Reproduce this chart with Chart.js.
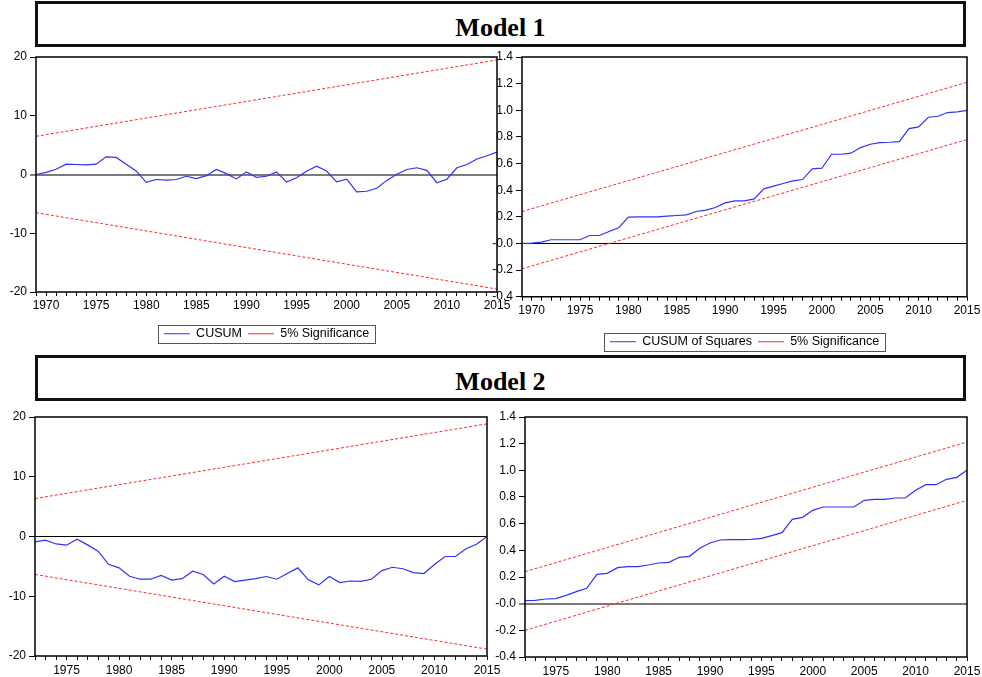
<!DOCTYPE html>
<html>
<head>
<meta charset="utf-8">
<script src="https://cdn.jsdelivr.net/npm/chart.js@4.4.0/dist/chart.umd.min.js"></script>
<style>
  html, body { margin: 0; padding: 0; background: #fff; }
  body { width: 982px; height: 677px; position: relative; overflow: hidden; }
  .title {
    position: absolute; left: 35px; width: 931px; height: 46px;
    box-sizing: border-box; border: 3px solid #111; padding-top: 4px;
    font-family: "Liberation Serif", "Times New Roman", serif;
    font-weight: bold; font-size: 26px; line-height: 40px; text-align: center; color: #000;
  }
  .box { position: absolute; }
</style>
</head>
<body>
<div class="title" style="top:1px">Model 1</div>
<div class="title" style="top:355px">Model 2</div>

<div class="box" style="left:0;top:50px;width:512px;height:300px"><canvas id="c1"></canvas></div>
<div class="box" style="left:482px;top:50px;width:500px;height:308px"><canvas id="c2"></canvas></div>
<div class="box" style="left:0;top:410px;width:500px;height:268px"><canvas id="c3"></canvas></div>
<div class="box" style="left:485px;top:410px;width:497px;height:267px"><canvas id="c4"></canvas></div>

<script>
// years
const years1 = Array.from({ length: 47 }, (_, i) => 1969 + i)  // 1969..2015
const years2 = Array.from({ length: 44 }, (_, i) => 1972 + i)  // 1972..2015

// Model 1
const m1Cusum = [0, 0.35, 0.9, 1.75, 1.7, 1.65, 1.75, 3.0, 2.9, 1.75,
  0.6, -1.35, -0.85, -0.95, -0.85, -0.3, -0.7, -0.2, 0.85, 0.15,
  -0.75, 0.45, -0.5, -0.3, 0.45, -1.3, -0.55, 0.55, 1.4, 0.6,
  -1.25, -0.8, -2.95, -2.85, -2.35, -1.0, 0.05, 0.85, 1.15, 0.7,
  -1.4, -0.8, 1.15, 1.7, 2.65, 3.2, 3.8]
const m1CusumUpper = [6.5, 19.5]
const m1CusumLower = [-6.5, -19.5]

const m1Cusumsq = [0, 0.003, 0.01, 0.028, 0.028, 0.028, 0.028, 0.06, 0.06, 0.09,
  0.118, 0.198, 0.2, 0.2, 0.2, 0.205, 0.21, 0.215, 0.24, 0.25,
  0.27, 0.305, 0.32, 0.32, 0.335, 0.41, 0.43, 0.45, 0.47, 0.48,
  0.56, 0.565, 0.67, 0.67, 0.678, 0.72, 0.745, 0.757, 0.76, 0.765,
  0.862, 0.875, 0.948, 0.955, 0.983, 0.988, 1.0]
const m1SqUpper = [0.24, 1.21]
const m1SqLower = [-0.19, 0.78]
const bounds1 = [1969, 2015]

// Model 2
const m2Cusum = [-0.9, -0.6, -1.25, -1.45, -0.45, -1.4, -2.45, -4.65, -5.25, -6.65,
  -7.15, -7.15, -6.5, -7.3, -7.05, -5.8, -6.35, -7.95, -6.65, -7.55,
  -7.3, -7.05, -6.7, -7.15, -6.2, -5.25, -7.25, -8.1, -6.7, -7.7,
  -7.45, -7.5, -7.15, -5.7, -5.15, -5.4, -6.05, -6.2, -4.7, -3.35,
  -3.35, -2.05, -1.3, 0]
const m2CusumUpper = [6.35, 18.85]
const m2CusumLower = [-6.35, -18.85]

const m2Cusumsq = [0.0225, 0.025, 0.035, 0.0375, 0.0625, 0.09, 0.115, 0.22, 0.2275, 0.27,
  0.2775, 0.2775, 0.29, 0.305, 0.31, 0.3475, 0.355, 0.415, 0.455, 0.4775,
  0.48, 0.48, 0.4825, 0.49, 0.51, 0.5325, 0.6325, 0.6475, 0.70, 0.725,
  0.725, 0.725, 0.725, 0.775, 0.7825, 0.7825, 0.7925, 0.7925, 0.85, 0.8925,
  0.8925, 0.9325, 0.9475, 1.0]
const m2SqUpper = [0.24, 1.2125]
const m2SqLower = [-0.2, 0.775]
const bounds2 = [1972, 2015]

const cusumTicks = [-20, 20, 10]
const sqTicks = [-0.4, 1.4, 0.2]

const BLUE = '#3030ff'
const RED = '#ff2a2a'
const FONT = '"Liberation Sans", Arial, sans-serif'

const pts = (xs, ys) => xs.map((x, i) => ({ x: x, y: ys[i] }))

const framePlugin = {
  id: 'frame',
  afterDatasetsDraw(chart) {
    const a = chart.chartArea
    const c = chart.ctx
    c.save()
    c.strokeStyle = '#000'
    c.lineWidth = 1.5
    c.strokeRect(a.left, a.top, a.right - a.left, a.bottom - a.top)
    c.restore()
  }
}

const legendBoxPlugin = {
  id: 'legendBox',
  afterDraw(chart) {
    const lg = chart.legend
    if (!lg || !lg.options.display || !lg.legendHitBoxes || !lg.legendHitBoxes.length) return
    const hb = lg.legendHitBoxes
    const l = Math.min(...hb.map(h => h.left))
    const r = Math.max(...hb.map(h => h.left + h.width))
    const t = Math.min(...hb.map(h => h.top))
    const b = Math.max(...hb.map(h => h.top + h.height))
    const c = chart.ctx
    c.save()
    c.strokeStyle = '#555'
    c.lineWidth = 1
    c.strokeRect(Math.round(l - 6) + 0.5, Math.round(t - 3) + 0.5, Math.round(r - l + 12), Math.round(b - t + 5))
    c.restore()
  }
}

function make_chart(id, o) {
  const datasets = [
    { label: o.label, data: pts(o.years, o.values), borderColor: BLUE, borderWidth: 1.2, pointRadius: 0, fill: false, tension: 0 },
    { label: '5% Significance', data: pts(o.bounds, o.upper), borderColor: RED, borderWidth: 1, borderDash: [3, 2], pointRadius: 0, fill: false },
    { label: '', data: pts(o.bounds, o.lower), borderColor: RED, borderWidth: 1, borderDash: [3, 2], pointRadius: 0, fill: false }
  ]
  const isZero = ctx => ctx.tick && Math.abs(ctx.tick.value) < 1e-9
  return new Chart(document.getElementById(id), {
    type: 'line',
    data: { datasets: datasets },
    plugins: [framePlugin, legendBoxPlugin],
    options: {
      responsive: true,
      maintainAspectRatio: false,
      animation: false,
      layout: { padding: o.pad },
      plugins: {
        tooltip: { enabled: false },
        legend: {
          display: o.legend,
          position: 'bottom',
          fullSize: false,
          align: 'center',
          labels: {
            usePointStyle: true,
            pointStyle: 'line',
            pointStyleWidth: 26,
            color: '#000',
            padding: 6,
            font: { size: 12.5, family: FONT },
            filter: item => item.text !== ''
          }
        }
      },
      scales: {
        x: {
          type: 'linear',
          min: o.bounds[0],
          max: o.bounds[1],
          afterFit(s) { s.height = o.xh; s.paddingLeft = 0; s.paddingRight = 0 },
          border: { display: false },
          grid: { drawOnChartArea: false, color: '#000', tickLength: 4, tickWidth: 1 },
          ticks: {
            stepSize: 1, maxTicksLimit: 100, autoSkip: false, maxRotation: 0, minRotation: 0,
            padding: o.xpad, color: '#000', font: { size: 12, family: FONT },
            callback: v => (v % 5 === 0 ? String(v) : '')
          }
        },
        y: {
          min: o.yt[0],
          max: o.yt[1],
          afterFit(s) { s.width = o.yw; s.paddingTop = 0; s.paddingBottom = 0 },
          border: { display: false },
          grid: {
            drawOnChartArea: true,
            color: ctx => (isZero(ctx) ? o.zeroColor : 'rgba(0,0,0,0)'),
            lineWidth: ctx => (isZero(ctx) ? o.zeroWidth : 1),
            tickColor: '#000', tickWidth: 1, tickLength: 6
          },
          ticks: {
            stepSize: o.yt[2], maxTicksLimit: 100, padding: 3, color: '#000',
            font: { size: 12, family: FONT },
            callback: v => (o.yt[2] < 1 ? v.toFixed(1) : String(Math.round(v)))
          }
        }
      }
    }
  })
}

make_chart('c1', {
  label: 'CUSUM', years: years1, values: m1Cusum, bounds: bounds1, upper: m1CusumUpper, lower: m1CusumLower,
  yt: cusumTicks, pad: { top: 7, right: 15, left: 0, bottom: 0 }, yw: 36, xh: 29.5, xpad: 2,
  legend: true, zeroColor: '#7a7a7a', zeroWidth: 2
})
make_chart('c2', {
  label: 'CUSUM of Squares', years: years1, values: m1Cusumsq, bounds: bounds1, upper: m1SqUpper, lower: m1SqLower,
  yt: sqTicks, pad: { top: 7, right: 15, left: 0, bottom: 0 }, yw: 40, xh: 32.75, xpad: 3,
  legend: true, zeroColor: '#000', zeroWidth: 1
})
make_chart('c3', {
  label: 'CUSUM', years: years2, values: m2Cusum, bounds: bounds2, upper: m2CusumUpper, lower: m2CusumLower,
  yt: cusumTicks, pad: { top: 7, right: 13, left: 0, bottom: 0 }, yw: 35, xh: 22, xpad: 3,
  legend: false, zeroColor: '#000', zeroWidth: 1
})
make_chart('c4', {
  label: 'CUSUM of Squares', years: years2, values: m2Cusumsq, bounds: bounds2, upper: m2SqUpper, lower: m2SqLower,
  yt: sqTicks, pad: { top: 7, right: 15, left: 0, bottom: 0 }, yw: 40, xh: 20, xpad: 3,
  legend: false, zeroColor: '#7a7a7a', zeroWidth: 2
})
</script>
</body>
</html>
